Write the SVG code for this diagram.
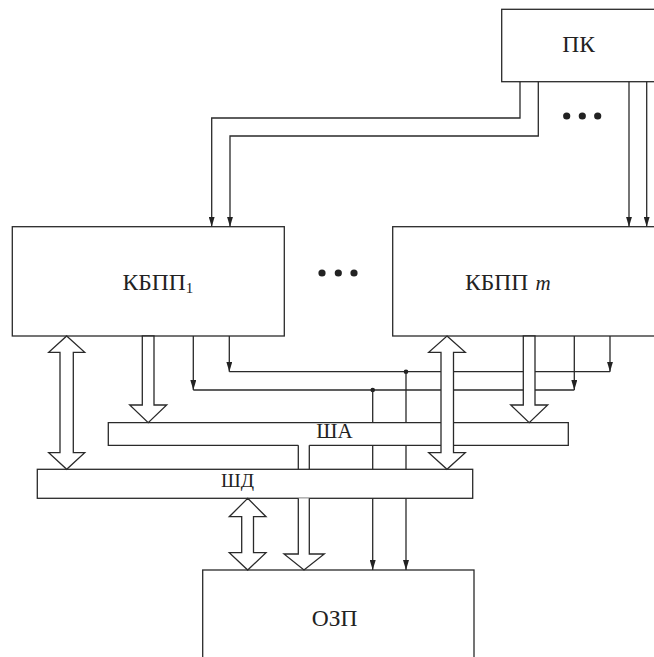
<svg xmlns="http://www.w3.org/2000/svg" width="654" height="657" viewBox="0 0 654 657">
<style>
.box{fill:#fff;stroke:#2a2a2a;stroke-width:1.3}
.ln{fill:none;stroke:#2a2a2a;stroke-width:1.3}
.ha{fill:#fff;stroke:#2a2a2a;stroke-width:1.3;stroke-linejoin:miter}
.lbl{font-family:"Liberation Serif","Times New Roman",serif;fill:#222}
.dot{fill:#222}
</style>
<defs>
<marker id="arr" markerUnits="userSpaceOnUse" viewBox="0 0 10 6" markerWidth="10" markerHeight="6" refX="10" refY="3" orient="auto">
<path d="M0,0 L10,3 L0,6 z" fill="#222"/>
</marker>
</defs>
<rect width="654" height="657" fill="#fff"/>

<g id="pk">
<rect class="box" x="501.7" y="9.3" width="160" height="72.4"/>
<text class="lbl" x="578.5" y="52.3" font-size="23.5" text-anchor="middle">ПК</text>
</g>

<g id="kbpp1">
<rect class="box" x="12.3" y="226.7" width="272" height="109.3"/>
<text class="lbl" x="122.5" y="290" font-size="23.5">КБПП<tspan font-size="15" dy="2.5">1</tspan></text>
</g>

<g id="kbppm">
<rect class="box" x="392.7" y="226.7" width="270" height="109.3"/>
<text class="lbl" x="465" y="290" font-size="23.5">КБПП <tspan x="535.5" font-size="21" font-style="italic">m</tspan></text>
</g>

<g id="sha">
<rect x="108.3" y="422.7" width="460" height="22.6" fill="#fff"/>
<path class="ln" d="M309.3,445.3 H568.3 V422.7 H108.3 V445.3 H298.3"/>
<text class="lbl" x="334.5" y="437.8" font-size="21" text-anchor="middle">ША</text>
</g>

<g id="shd">
<rect class="box" x="37.3" y="469.3" width="435.4" height="29"/>
<text class="lbl" x="237.5" y="487" font-size="19.5" text-anchor="middle">ШД</text>
</g>

<g id="ozp">
<rect class="box" x="202.7" y="570" width="271.3" height="100"/>
<text class="lbl" x="334.7" y="625.7" font-size="23.5" text-anchor="middle">ОЗП</text>
</g>

<g id="ellipsis">
<circle class="dot" cx="566.7" cy="116" r="3.6"/>
<circle class="dot" cx="582.3" cy="116" r="3.6"/>
<circle class="dot" cx="597.7" cy="116" r="3.6"/>
<circle class="dot" cx="322" cy="273" r="3.6"/>
<circle class="dot" cx="338.3" cy="273" r="3.6"/>
<circle class="dot" cx="354" cy="273" r="3.6"/>
</g>

<g id="connectors">
<path class="ln" d="M520,81.7 V118 H211.7 V226.7" marker-end="url(#arr)"/>
<path class="ln" d="M538.3,81.7 V136 H230 V226.7" marker-end="url(#arr)"/>
<path class="ln" d="M629,81.7 V226.7" marker-end="url(#arr)"/>
<path class="ln" d="M646.7,81.7 V226.7" marker-end="url(#arr)"/>

<path class="ln" d="M229.3,336 V371.7" marker-end="url(#arr)"/>
<path class="ln" d="M193.3,336 V390" marker-end="url(#arr)"/>
<path class="ln" d="M610,336 V371.7" marker-end="url(#arr)"/>
<path class="ln" d="M574.3,336 V390" marker-end="url(#arr)"/>
<path class="ln" d="M229.3,371.7 H610"/>
<path class="ln" d="M193.3,390 H574.3"/>
<circle class="dot" cx="406" cy="371.7" r="2.3"/>
<circle class="dot" cx="372.7" cy="390" r="2.3"/>
<path class="ln" d="M406,371.7 V422.7 M406,445.3 V469.3"/>
<path class="ln" d="M406,498.3 V570" marker-end="url(#arr)"/>
<path class="ln" d="M372.7,390 V422.7 M372.7,445.3 V469.3"/>
<path class="ln" d="M372.7,498.3 V570" marker-end="url(#arr)"/>

<path class="ln" d="M298.3,445.3 V469.3 M309.3,445.3 V469.3"/>
<polyline class="ha" points="298.3,498.3 298.3,554 284,554 304,570 324.3,554 309.3,554 309.3,498.3"/>

<polygon class="ha" points="66.7,336 84.7,352.3 73.3,352.3 73.3,452.7 84.7,452.7 66.7,469.3 48.7,452.7 60,452.7 60,352.3 48.7,352.3"/>
<polygon class="ha" points="142.3,336 142.3,405 129.7,405 148.2,422.7 166.7,405 154,405 154,336"/>
<polygon class="ha" points="447,336 465.3,352.3 453.5,352.3 453.5,452.7 465.3,452.7 447,469.3 428.7,452.7 441,452.7 441,352.3 428.7,352.3"/>
<polygon class="ha" points="523.3,336 523.3,405 510.7,405 529.2,422.7 547.7,405 535,405 535,336"/>
<polygon class="ha" points="247.7,498.3 266,516.7 253.5,516.7 253.5,552.7 266,552.7 247.7,570 229.3,552.7 241.7,552.7 241.7,516.7 229.3,516.7"/>
</g>
</svg>
